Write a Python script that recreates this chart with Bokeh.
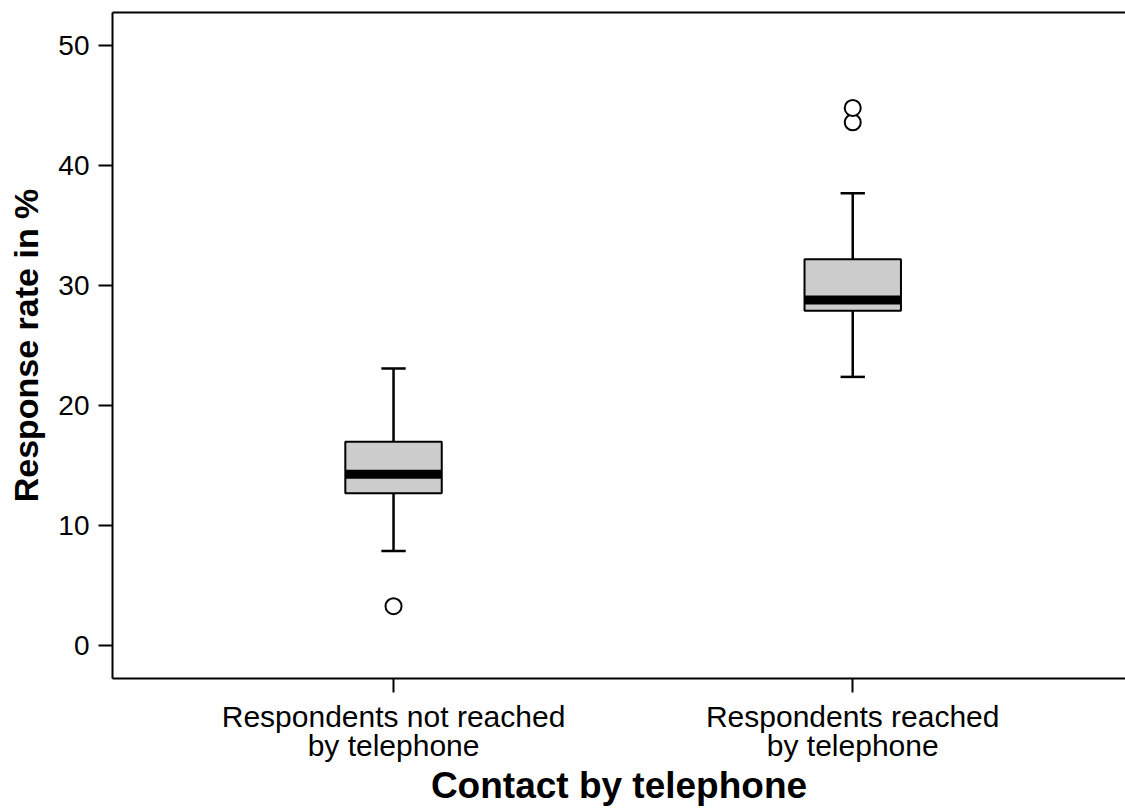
from bokeh.plotting import figure
from bokeh.models import LinearAxis, FixedTicker, ColumnDataSource, Range1d
from bokeh.embed import file_html
from bokeh.resources import INLINE

# Response rate (%) by telephone contact status: box-plot summary statistics
groups = ["Respondents not reached\nby telephone", "Respondents reached\nby telephone"]
q1 = [12.7, 27.9]
median = [14.3, 28.8]
q3 = [17.0, 32.2]
whisker_low = [7.9, 22.4]
whisker_high = [23.1, 37.7]

# Outliers: group index and value
outlier_group = [0, 1, 1]
outlier_value = [3.3, 43.6, 44.8]

y_ticks = [0, 10, 20, 30, 40, 50]

FONT = "Liberation Sans"
BOX_W = 0.21
CAP_W = 0.053

pos = [i + 1 for i in range(len(groups))]

p = figure(
    width=1125, height=809,
    x_range=Range1d(0.388, 2.594), y_range=Range1d(-2.72, 52.75),
    output_backend="svg", toolbar_location=None,
    min_border_left=112, min_border_right=0, min_border_top=12, min_border_bottom=131,
    background_fill_color="white", border_fill_color="white",
)
p.outline_line_color = None
p.xgrid.visible = False
p.ygrid.visible = False

src = ColumnDataSource(dict(
    x=pos, q1=q1, med=median, q3=q3, lo=whisker_low, hi=whisker_high,
    left=[x - BOX_W / 2 for x in pos], right=[x + BOX_W / 2 for x in pos],
    cl=[x - CAP_W / 2 for x in pos], cr=[x + CAP_W / 2 for x in pos],
))

# whiskers
p.segment(x0="x", y0="q3", x1="x", y1="hi", source=src, line_color="black", line_width=2.5)
p.segment(x0="x", y0="lo", x1="x", y1="q1", source=src, line_color="black", line_width=2.5)
p.segment(x0="cl", y0="hi", x1="cr", y1="hi", source=src, line_color="black", line_width=2.5)
p.segment(x0="cl", y0="lo", x1="cr", y1="lo", source=src, line_color="black", line_width=2.5)

# boxes
p.quad(left="left", right="right", bottom="q1", top="q3", source=src,
       fill_color="#cccccc", line_color="black", line_width=2)

# medians
p.segment(x0="left", y0="med", x1="right", y1="med", source=src,
          line_color="black", line_width=9, line_cap="butt")

# outliers
p.scatter(x=[pos[g] for g in outlier_group], y=outlier_value, marker="circle",
          size=16, fill_color="white", line_color="black", line_width=2)

# axes
for ax in (p.xaxis[0], p.yaxis[0]):
    ax.axis_line_width = 2
    ax.axis_line_color = "black"
    ax.major_tick_line_width = 2
    ax.major_tick_line_color = "black"
    ax.major_tick_in = 0
    ax.major_tick_out = 14
    ax.minor_tick_line_color = None
    ax.major_label_text_font = FONT
    ax.major_label_text_color = "black"
    ax.axis_label_text_font = FONT
    ax.axis_label_text_font_style = "bold"
    ax.axis_label_text_color = "black"

p.xaxis.ticker = FixedTicker(ticks=pos)
p.xaxis.major_label_overrides = {x: g for x, g in zip(pos, groups)}
p.xaxis.major_label_text_font_size = "30px"
p.xaxis.major_label_text_line_height = 0.88
p.xaxis.major_label_standoff = 7
p.xaxis.axis_label = "Contact by telephone"
p.xaxis.axis_label_text_font_size = "37px"
p.xaxis.axis_label_text_line_height = 0.75
p.xaxis.axis_label_standoff = 0

p.yaxis.ticker = FixedTicker(ticks=y_ticks)
p.yaxis.major_label_text_font_size = "28px"
p.yaxis.major_label_standoff = 9
p.yaxis.axis_label = "Response rate in %"
p.yaxis.axis_label_text_font_size = "34px"
p.yaxis.axis_label_standoff = 10

# top border line
top = LinearAxis(ticker=FixedTicker(ticks=[]), axis_line_width=2, axis_line_color="black",
                 major_tick_out=0, major_tick_in=0, minor_tick_out=0, minor_tick_in=0,
                 major_label_text_font_size="0px")
p.add_layout(top, "above")

open("out.html", "w").write(file_html(p, INLINE))
